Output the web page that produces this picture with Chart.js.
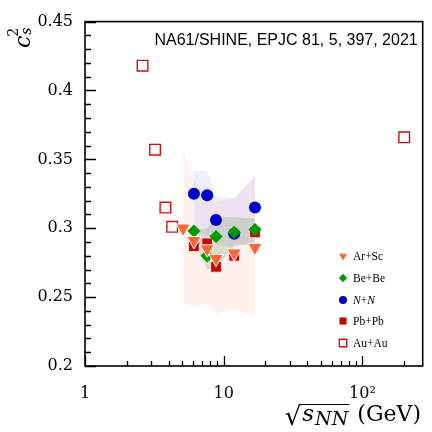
<!DOCTYPE html>
<html><head><meta charset="utf-8">
<script src="https://cdn.jsdelivr.net/npm/chart.js@4/dist/chart.umd.min.js"></script>
<style>html,body{margin:0;padding:0;background:#fff}</style>
</head><body>
<canvas id="c" width="432" height="432"></canvas>
<script>
// ---- data ----
const seriesLabels = ['Ar+Sc', 'Be+Be', 'N+N', 'Pb+Pb', 'Au+Au'];
const arscEnergies = [5.1, 6.1, 7.6, 8.8, 11.9, 16.8];
const arscValues   = [0.300, 0.291, 0.285, 0.278, 0.282, 0.286];
const bebeEnergies = [6.1, 7.6, 8.8, 11.9, 16.8];
const bebeValues   = [0.298, 0.280, 0.294, 0.297, 0.299];
const nnEnergies   = [6.1, 7.6, 8.8, 11.9, 16.8];
const nnValues     = [0.325, 0.324, 0.306, 0.296, 0.315];
const pbpbEnergies = [6.1, 7.6, 8.8, 11.9, 16.8];
const pbpbValues   = [0.287, 0.289, 0.272, 0.280, 0.297];
const auauEnergies = [2.6, 3.2, 3.8, 4.25, 200];
const auauValues   = [0.418, 0.357, 0.315, 0.301, 0.366];
// uncertainty bands
const arscBandUpper = [0.356, 0.335, 0.323, 0.319, 0.322, 0.338];
const arscBandLower = [0.246, 0.243, 0.245, 0.238, 0.241, 0.236];
const nnBandUpper   = [0.342, 0.341, 0.323, 0.322, 0.338];
const nnBandLower   = [0.297, 0.295, 0.288, 0.286, 0.290];
const bebeBandUpper = [0.298, 0.300, 0.308, 0.308, 0.307];
const bebeBandLower = [0.290, 0.270, 0.270, 0.288, 0.288];
// axes
const yTicks = [0.2, 0.25, 0.3, 0.35, 0.4, 0.45];
const yTickLabels = ['0.2', '0.25', '0.3', '0.35', '0.4', '0.45'];
const yMinorTicks = [0.21,0.22,0.23,0.24,0.26,0.27,0.28,0.29,0.31,0.32,0.33,0.34,0.36,0.37,0.38,0.39,0.41,0.42,0.43,0.44];
const xMajorTicks = [1, 10, 100];
const xTickLabels = ['1', '10', '10\u00B2'];
const xMinorTicks = [2,3,4,5,6,7,8,9,20,30,40,50,60,70,80,90,200];
const annotationText = 'NA61/SHINE, EPJC 81, 5, 397, 2021';

function pts(xs, ys) { return xs.map((x, i) => ({x: x, y: ys[i]})); }

function marker(label, xs, ys, style, extra) {
  return Object.assign({
    label: label, data: pts(xs, ys), showLine: false,
    pointStyle: style, isMarker: true
  }, extra);
}
function band(xs, ys, fill, color, order) {
  return {
    label: '', data: pts(xs, ys), showLine: true, fill: fill,
    backgroundColor: color, borderColor: 'rgba(0,0,0,0)', borderWidth: 0,
    pointRadius: 0, tension: 0, order: order, isMarker: false
  };
}

const datasets = [
  marker(seriesLabels[0], arscEnergies, arscValues, 'triangle',
    {pointRotation: 180, pointRadius: 8.3, pointBackgroundColor: '#ff6633', pointBorderColor: '#ffffff', pointBorderWidth: 1, order: 1, legendRadius: 4.6}),
  marker(seriesLabels[1], bebeEnergies, bebeValues, 'rectRot',
    {pointRadius: 6.6, pointBackgroundColor: '#009900', pointBorderColor: '#009900', pointBorderWidth: 0, order: 2, legendRadius: 4.2}),
  marker(seriesLabels[2], nnEnergies, nnValues, 'circle',
    {pointRadius: 6, pointBackgroundColor: '#0000cc', pointBorderColor: '#0000cc', pointBorderWidth: 0, order: 3, legendRadius: 4}),
  marker(seriesLabels[3], pbpbEnergies, pbpbValues, 'rect',
    {pointRadius: 7.6, pointBackgroundColor: '#cc0000', pointBorderColor: '#ffffff', pointBorderWidth: 0.8, order: 4, legendRadius: 5}),
  marker(seriesLabels[4], auauEnergies, auauValues, 'rect',
    {pointRadius: 7.5, pointBackgroundColor: 'rgba(255,255,255,0)', pointBorderColor: '#d01010', pointBorderWidth: 1.4, order: 5, legendRadius: 5.2}),
  band(arscEnergies, arscBandUpper, '+1', 'rgba(255,120,80,0.10)', 30),
  band(arscEnergies, arscBandLower, false, 'rgba(0,0,0,0)', 31),
  band(nnEnergies, nnBandUpper, '+1', 'rgba(110,120,255,0.12)', 20),
  band(nnEnergies, nnBandLower, false, 'rgba(0,0,0,0)', 21),
  band(bebeEnergies, bebeBandUpper, '+1', 'rgba(60,110,40,0.17)', 10),
  band(bebeEnergies, bebeBandLower, false, 'rgba(0,0,0,0)', 11)
];

const serif = 'DejaVu Serif';

const decorPlugin = {
  id: 'decor',
  afterDraw(chart) {
    const ctx = chart.ctx;
    const a = chart.chartArea;
    const xs = chart.scales.x, ys = chart.scales.y;
    ctx.save();
    ctx.strokeStyle = '#000';
    // inward ticks
    ctx.lineWidth = 1.3;
    ctx.beginPath();
    yTicks.forEach(v => { const p = Math.round(ys.getPixelForValue(v)) + 0.5; ctx.moveTo(a.left, p); ctx.lineTo(a.left + 11, p); });
    yMinorTicks.forEach(v => { const p = Math.round(ys.getPixelForValue(v)) + 0.5; ctx.moveTo(a.left, p); ctx.lineTo(a.left + 6, p); });
    xMajorTicks.forEach(v => { const p = Math.round(xs.getPixelForValue(v)) + 0.5; ctx.moveTo(p, a.bottom); ctx.lineTo(p, a.bottom - 10); });
    xMinorTicks.forEach(v => { const p = Math.round(xs.getPixelForValue(v)) + 0.5; ctx.moveTo(p, a.bottom); ctx.lineTo(p, a.bottom - 5); });
    ctx.stroke();
    // frame
    ctx.lineWidth = 1.6;
    ctx.strokeRect(a.left, a.top, a.right - a.left, a.bottom - a.top);

    // annotation
    ctx.fillStyle = '#000';
    ctx.font = '16px "Liberation Sans"';
    ctx.textAlign = 'right';
    ctx.textBaseline = 'alphabetic';
    ctx.fillText(annotationText, a.right - 5, 45);

    // y title c_s^2
    ctx.save();
    ctx.translate(30, 48);
    ctx.rotate(-Math.PI / 2);
    ctx.textAlign = 'left';
    ctx.font = 'italic 22px "' + serif + '"';
    ctx.fillText('c', 0, 0);
    const cw = ctx.measureText('c').width;
    ctx.font = 'italic 14px "' + serif + '"';
    ctx.fillText('s', cw + 1, 1);
    ctx.font = '14px "' + serif + '"';
    ctx.fillText('2', cw - 1, -12);
    ctx.restore();

    // x title sqrt(s_NN) (GeV)
    const base = 421;
    const fRad = '26px "' + serif + '"';
    const fBig = '22px "' + serif + '"';
    const fIt = 'italic 23px "' + serif + '"';
    const fSub = 'italic 19px "' + serif + '"';
    ctx.textAlign = 'left';
    ctx.font = fRad; const wRad = ctx.measureText('\u221A').width;
    ctx.font = fIt; const wS = ctx.measureText('s').width;
    ctx.font = fSub; const wNN = ctx.measureText('NN').width;
    ctx.font = fBig; const wG = ctx.measureText('(GeV)').width;
    const gap = 9, endX = 421;
    let x = endX - (wRad + 1 + wS + 1 + wNN + gap + wG);
    ctx.font = fRad; ctx.fillText('\u221A', x, base + 4);
    const ovStart = x + wRad - 1.5;
    x += wRad + 1;
    ctx.font = fIt; ctx.fillText('s', x, base); x += wS + 1;
    ctx.font = fSub; ctx.fillText('NN', x, base + 4); x += wNN;
    ctx.lineWidth = 1.1;
    ctx.beginPath(); ctx.moveTo(ovStart, base - 16.5); ctx.lineTo(x + 1, base - 16.5); ctx.stroke();
    x += gap;
    ctx.font = fBig; ctx.fillText('(GeV)', x, base);

    // legend
    const lx = 343, ltx = 353;
    const ly = [256, 278, 300, 321, 343];
    chart.data.datasets.filter(d => d.isMarker).forEach((d, i) => {
      ctx.fillStyle = d.pointBackgroundColor;
      ctx.strokeStyle = d.pointBorderColor;
      const bw = d.pointBorderColor === '#ffffff' ? 0 : d.pointBorderWidth;
      ctx.lineWidth = bw || 1;
      Chart.helpers.drawPoint(ctx, {pointStyle: d.pointStyle, rotation: d.pointRotation || 0, radius: d.legendRadius, borderWidth: bw}, lx, ly[i]);
      ctx.fillStyle = '#000';
      ctx.textAlign = 'left';
      ctx.textBaseline = 'middle';
      const f = '11.5px "Liberation Serif"', fi = 'italic 11.5px "Liberation Serif"';
      if (d.label === 'N+N') {
        let tx = ltx;
        ctx.font = fi; ctx.fillText('N', tx, ly[i] + 0.5); tx += ctx.measureText('N').width;
        ctx.font = f; ctx.fillText('+', tx, ly[i] + 0.5); tx += ctx.measureText('+').width;
        ctx.font = fi; ctx.fillText('N', tx, ly[i] + 0.5);
      } else {
        ctx.font = f;
        ctx.fillText(d.label, ltx, ly[i] + 0.5);
      }
    });
    ctx.restore();
  }
};

new Chart(document.getElementById('c'), {
  type: 'line',
  data: {datasets: datasets},
  options: {
    responsive: false,
    animation: false,
    events: [],
    layout: {padding: {top: 15, right: 5, left: 0, bottom: 0}},
    plugins: {legend: {display: false}, tooltip: {enabled: false}, filler: {propagate: false}},
    scales: {
      x: {
        type: 'logarithmic', min: 1, max: 272,
        grid: {display: false, drawTicks: false},
        border: {display: false},
        ticks: {
          autoSkip: false, maxRotation: 0, padding: 18, color: '#000',
          font: {family: serif, size: 16},
          callback: (v) => { const i = xMajorTicks.indexOf(Number(v)); return i >= 0 ? xTickLabels[i] : null; }
        },
        afterFit: (s) => { s.height = 66; }
      },
      y: {
        type: 'linear', min: 0.2, max: 0.45,
        grid: {display: false, drawTicks: false},
        border: {display: false},
        ticks: {
          stepSize: 0.05, padding: 12, color: '#000',
          font: {family: serif, size: 16},
          callback: (v) => { const i = yTicks.findIndex(t => Math.abs(t - v) < 1e-6); return i >= 0 ? yTickLabels[i] : null; }
        },
        afterFit: (s) => { s.width = 85; }
      }
    }
  },
  plugins: [decorPlugin]
});
</script>
</body></html>
